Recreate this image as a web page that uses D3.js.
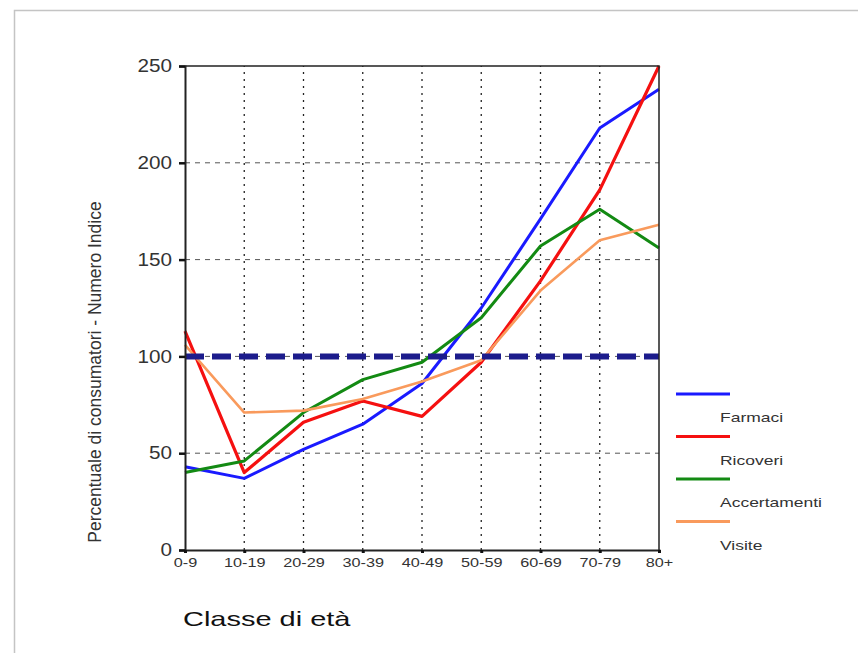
<!DOCTYPE html>
<html>
<head>
<meta charset="utf-8">
<script src="https://cdn.jsdelivr.net/npm/d3@7"></script>
<style>
  body { margin: 0; background: #fff; }
  svg { display: block; }
</style>
</head>
<body>
<div id="chart-area"></div>
<script>
var width = 858,
    height = 653;

// age classes on the x axis
var categories = ["0-9", "10-19", "20-29", "30-39", "40-49", "50-59", "60-69", "70-79", "80+"];
var yTicks = [0, 50, 100, 150, 200, 250];

// index values
var farmaci      = [43, 37, 52, 65, 86, 125, 171, 218, 238];
var ricoveri     = [113, 40, 66, 77, 69, 97, 139, 186, 250];
var accertamenti = [40, 46, 71, 88, 97, 120, 157, 176, 156];
var visite       = [106, 71, 72, 78, 87, 98, 134, 160, 168];
var reference    = 100;

var seriesNames = ["Farmaci", "Ricoveri", "Accertamenti", "Visite"];
var seriesColors = ["#1a1aff", "#f51010", "#138a13", "#f99a5c"];

var series = [
  { name: seriesNames[0], values: farmaci, color: seriesColors[0], w: 3 },
  { name: seriesNames[1], values: ricoveri, color: seriesColors[1], w: 3.2 },
  { name: seriesNames[2], values: accertamenti, color: seriesColors[2], w: 3 },
  { name: seriesNames[3], values: visite, color: seriesColors[3], w: 2.6 }
];

var FONT = "Arial, 'Liberation Sans', sans-serif";

var svg = d3.select("#chart-area").append("svg")
    .attr("width", width)
    .attr("height", height);

// slide frame
svg.append("path")
  .attr("d", "M14.5," + height + "V10.5H" + width)
  .attr("fill", "none")
  .attr("stroke", "#c4c4c4")
  .attr("stroke-width", 1.5);

var x = d3.scalePoint()
  .domain(categories)
  .range([185, 659]);

var y = d3.scaleLinear()
  .domain([0, 250])
  .range([550, 66]);

// horizontal grid (dashed grey)
svg.append("g")
  .selectAll("line")
  .data(yTicks.filter(d => d > 0 && d < 250))
  .enter()
  .append("line")
  .attr("x1", x.range()[0])
  .attr("x2", x.range()[1])
  .attr("y1", d => y(d))
  .attr("y2", d => y(d))
  .attr("stroke", "#555")
  .attr("stroke-width", 1)
  .attr("stroke-dasharray", "5,5");

// vertical grid (dotted black)
svg.append("g")
  .selectAll("line")
  .data(categories.slice(1, -1))
  .enter()
  .append("line")
  .attr("x1", d => x(d))
  .attr("x2", d => x(d))
  .attr("y1", y(0))
  .attr("y2", y(250))
  .attr("stroke", "#222")
  .attr("stroke-width", 1.3)
  .attr("stroke-dasharray", "2,5");

// data lines
var line = d3.line()
  .x((d, i) => x(categories[i]))
  .y(d => y(d));

svg.append("g")
  .selectAll("path")
  .data(series)
  .enter()
  .append("path")
  .attr("d", d => line(d.values))
  .attr("fill", "none")
  .attr("stroke", d => d.color)
  .attr("stroke-width", d => d.w)
  .attr("stroke-linejoin", "round");

// reference line at 100
svg.append("line")
  .attr("x1", x.range()[0])
  .attr("x2", x.range()[1])
  .attr("y1", y(reference))
  .attr("y2", y(reference))
  .attr("stroke", "#1c1c8c")
  .attr("stroke-width", 6)
  .attr("stroke-dasharray", "19,8");

// box: top and right sides
svg.append("path")
  .attr("d", "M" + x.range()[0] + "," + y(250) + "H" + x.range()[1] + "V" + y(0))
  .attr("fill", "none")
  .attr("stroke", "#222")
  .attr("stroke-width", 1.5);

// y axis
var yAxis = svg.append("g")
  .attr("transform", "translate(" + x.range()[0] + ",0)")
  .call(d3.axisLeft(y).tickValues(yTicks).tickSize(6).tickPadding(8));
yAxis.select(".domain").attr("stroke", "#222").attr("stroke-width", 2);
yAxis.selectAll(".tick line").attr("stroke", "#111").attr("stroke-width", 2.5);
yAxis.selectAll("text")
  .attr("font-family", FONT)
  .attr("font-size", 18)
  .attr("fill", "#333")
  .attr("x", -13 / 1.15)
  .attr("transform", "scale(1.15,1)");

// x axis
var xAxis = svg.append("g")
  .attr("transform", "translate(0," + y(0) + ")")
  .call(d3.axisBottom(x).tickSize(3).tickPadding(5));
xAxis.select(".domain").attr("stroke", "#222").attr("stroke-width", 2);
xAxis.selectAll(".tick line").attr("stroke", "#111").attr("stroke-width", 3);
xAxis.selectAll("text")
  .attr("font-family", FONT)
  .attr("font-size", 12.5)
  .attr("fill", "#333")
  .attr("transform", "scale(1.3,1)");

// axis titles
svg.append("text")
  .attr("transform", "translate(101,372) rotate(-90)")
  .attr("text-anchor", "middle")
  .attr("font-family", "'Liberation Sans Narrow', 'Arial Narrow', sans-serif")
  .attr("font-stretch", "condensed")
  .attr("font-size", 17.5)
  .attr("fill", "#333")
  .text("Percentuale di consumatori - Numero Indice");

svg.append("text")
  .attr("transform", "translate(183,626) scale(1.38,1)")
  .attr("font-family", FONT)
  .attr("font-size", 21)
  .attr("fill", "#111")
  .text("Classe di età");

// legend
var legend = svg.append("g")
  .selectAll("g")
  .data(series)
  .enter()
  .append("g")
  .attr("transform", (d, i) => "translate(0," + (394 + i * 42.5) + ")");

legend.append("line")
  .attr("x1", 676)
  .attr("x2", 730)
  .attr("stroke", d => d.color)
  .attr("stroke-width", 3);

legend.append("text")
  .attr("transform", "translate(720,28) scale(1.4,1)")
  .attr("font-family", FONT)
  .attr("font-size", 12.5)
  .attr("fill", "#333")
  .text(d => d.name);
</script>
</body>
</html>
